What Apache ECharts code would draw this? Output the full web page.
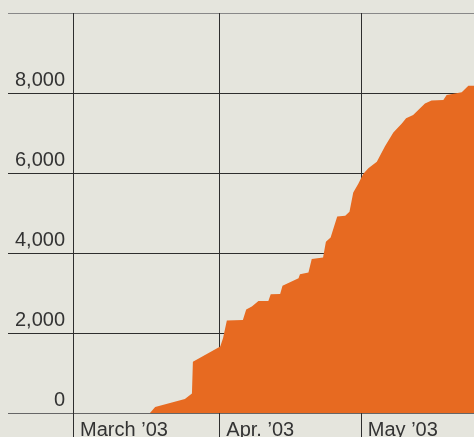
<!DOCTYPE html>
<html>
<head>
<meta charset="utf-8">
<script src="https://cdn.jsdelivr.net/npm/echarts@6/dist/echarts.min.js"></script>
<style>
  html, body { margin: 0; padding: 0; background: #e5e5dd; }
  #chart { width: 474px; height: 437px; }
</style>
</head>
<body>
<div id="chart"></div>
<script>
// days counted from March 1 2003
const days = [16.3, 17.4, 23.7, 25.2, 25.4, 31.2, 31.8, 32.6, 36.0, 36.7, 37.9, 39.3, 41.4, 41.9,
  43.9, 44.4, 47.8, 48.1, 49.9, 50.6, 53.0, 53.6, 54.6, 56.0, 57.7, 58.6, 59.4, 60.5, 61.5, 62.6,
  64.4, 66.1, 67.9, 69.7, 70.6, 72.1, 74.6, 76.0, 78.5, 79.2, 82.4, 83.8, 85.0]
const totals = [0, 150, 350, 490, 1280, 1660, 1875, 2310, 2325, 2590, 2660, 2800, 2800, 2970,
  2975, 3180, 3370, 3470, 3510, 3850, 3890, 4280, 4390, 4910, 4930, 5030, 5510, 5740, 5975, 6120,
  6280, 6660, 7010, 7240, 7370, 7450, 7740, 7810, 7825, 7950, 8020, 8180, 8180]
const monthStarts = [0, 31, 61]
const monthLabels = ['March \u201903', 'Apr. \u201903', 'May \u201903']

const chart = echarts.init(document.getElementById('chart'))
const font = '"Liberation Sans", Arial, sans-serif'

chart.setOption({
  animation: false,
  backgroundColor: '#e5e5dd',
  grid: { left: 8, right: 0, top: 13, bottom: 24, outerBoundsMode: 'none', containLabel: false },
  xAxis: {
    type: 'value', min: -13.8, max: 85,
    axisLine: { show: false },
    axisTick: { show: true, customValues: monthStarts, length: 24, lineStyle: { color: '#2e2e2e', width: 1 } },
    splitLine: { show: true, lineStyle: { color: '#2e2e2e', width: 1 } },
    axisLabel: {
      customValues: monthStarts, align: 'left', margin: 7, padding: [0, 0, 0, 7],
      color: '#333', fontSize: 20, fontFamily: font,
      formatter: v => monthLabels[monthStarts.indexOf(Math.round(v))] || ''
    }
  },
  yAxis: {
    type: 'value', min: 0, max: 10000, interval: 2000,
    axisLine: { show: false }, axisTick: { show: false },
    splitLine: { lineStyle: { color: ['#666', '#2e2e2e', '#2e2e2e', '#2e2e2e', '#2e2e2e', '#888'], width: 1 } },
    axisLabel: {
      inside: true, align: 'right', margin: 57, verticalAlign: 'bottom', padding: [0, 0, 3, 0],
      color: '#333', fontSize: 20, fontFamily: font, showMaxLabel: false,
      formatter: v => v >= 10000 ? '' : v.toLocaleString('en-US')
    }
  },
  series: [{
    type: 'line',
    data: days.map((d, i) => [d, totals[i]]),
    showSymbol: false,
    lineStyle: { width: 0 },
    areaStyle: { color: '#e76a21', opacity: 1 },
    z: 1
  }]
})
</script>
</body>
</html>
